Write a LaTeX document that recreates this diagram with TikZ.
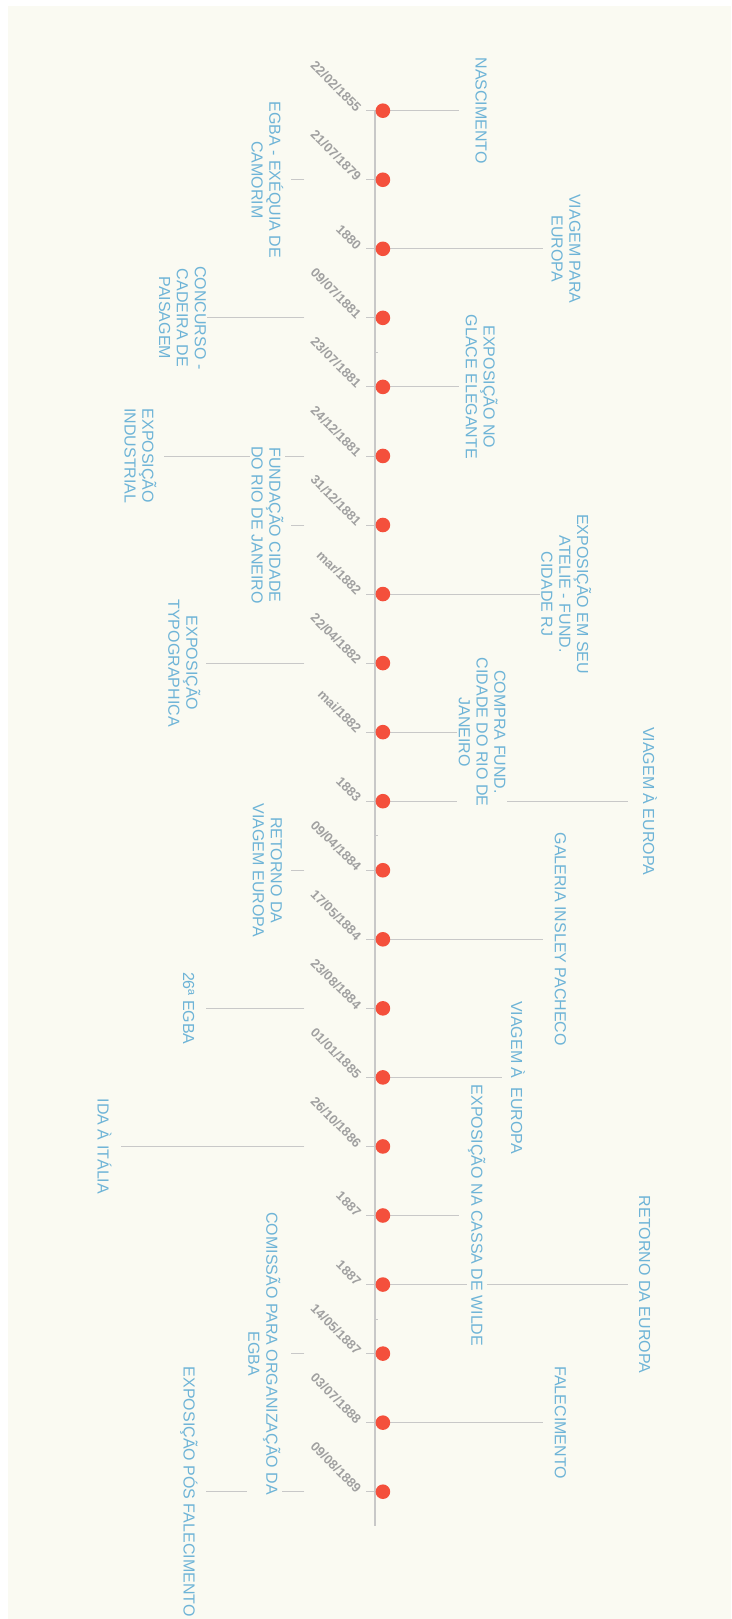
\documentclass[tikz,border=0pt]{standalone}
\usepackage{fontspec}
\setmainfont{Liberation Sans}
\usepackage{tikz}
\definecolor{paper}{HTML}{FAFAF2}
\definecolor{evblue}{HTML}{6EB4D7}
\definecolor{dotred}{HTML}{F4503C}
\definecolor{rulegray}{HTML}{C8C8C8}
\definecolor{dategray}{HTML}{A0A0A0}
\pgfdeclarelayer{back}
\pgfdeclarelayer{lines}
\pgfsetlayers{back,lines,main}

\begin{document}
\begin{tikzpicture}[x=1pt,y=-1pt,
  ev/.style={circle,fill=dotred,minimum size=14.6pt,inner sep=0pt},
  dt/.style={rotate=-45,anchor=base east,inner sep=0pt,text=dategray,font=\fontsize{13}{13}\selectfont\bfseries},
  lb/.style={rotate=-90,align=center,fill=paper,inner sep=1.5pt,text=evblue,font=\fontsize{16}{17.8}\selectfont},
  cn/.style={rulegray,line width=0.9pt},
  ax/.style={rulegray,line width=1.8pt}]
  \begin{pgfonlayer}{back}
    \fill[white] (0,0) rectangle (731,1619);
    \fill[paper] (8,6) rectangle (731,1619);
  \end{pgfonlayer}
  \useasboundingbox (0,0) rectangle (731,1619);
  \coordinate (top) at (374.6,110);
  \coordinate (bot) at (374.6,1526);
  \begin{pgfonlayer}{lines}
    \draw[ax] (top) -- (bot);
    \foreach \k in {4,11,18}
      \draw[cn] (374.6,{110.7+69.05*(\k-0.5)}) -- ++(3.5,0);
  \end{pgfonlayer}
  \foreach \i/\dat/\xe/\xc/\txt in {
      1/{22/02/1855}/458.9/481.2/NASCIMENTO,
      3/1880/542.9/566/{VIAGEM PARA\\EUROPA},
      5/{23/07/1881}/458.9/481.6/{EXPOSIÇÃO NO\\GLACE ELEGANTE},
      8/{mar/1882}/542.9/566.2/{EXPOSIÇÃO EM SEU\\ATELIE - FUND.\\CIDADE RJ},
      10/{mai/1882}/457.1/482.1/{COMPRA FUND.\\CIDADE DO RIO DE\\JANEIRO},
      11/1883/627.9/650/{VIAGEM À EUROPA},
      13/{17/05/1884}/542.9/560.4/{GALERIA INSLEY PACHECO},
      15/{01/01/1885}/501.8/517.9/{VIAGEM À\ \ EUROPA},
      17/1887/458.9/476.8/{EXPOSIÇÃO NA CASSA DE WILDE},
      18/1887/627.9/644.6/{RETORNO DA EUROPA},
      20/{03/07/1888}/542.9/560.4/FALECIMENTO} {
    \pgfmathsetmacro\y{110.7+69.05*(\i-1)}
    \node[ev] (d\i) at (382.9,\y) {};
    \node[dt] (w\i) at (356,\y+2) {\dat};
    \coordinate (t\i) at (\xe,\y);
    \node[lb] (e\i) at (\xc,\y) {\txt};
    \begin{pgfonlayer}{lines}
      \draw[cn] (d\i.center) -- (t\i);
      \draw[cn] (366,\y) -- (374.6,\y);
    \end{pgfonlayer}
  }
  \foreach \i/\dat/\xe/\xc/\txt in {
      2/{21/07/1879}/291/267.4/{EGBA - EXÉQUIA DE\\CAMORIM},
      4/{09/07/1881}/206.4/182.5/{CONCURSO -\\CADEIRA DE\\PAISAGEM},
      6/{24/12/1881}/163.6/140.5/{EXPOSIÇÃO\\INDUSTRIAL},
      7/{31/12/1881}/291/267.4/{FUNDAÇÃO CIDADE\\DO RIO DE JANEIRO},
      9/{22/04/1882}/206.4/184.3/{EXPOSIÇÃO\\TYPOGRAPHICA},
      12/{09/04/1884}/291/267.4/{RETORNO DA\\VIAGEM EUROPA},
      14/{23/08/1884}/206.4/188.6/26ª EGBA,
      16/{26/10/1886}/121.4/104.5/{IDA À ITÁLIA},
      19/{14/05/1887}/291/264.3/{COMISSÃO PARA ORGANIZAÇÃO DA\\EGBA},
      21/{09/08/1889}/206.4/188.9/{EXPOSIÇÃO PÓS FALECIMENTO}} {
    \pgfmathsetmacro\y{110.7+69.05*(\i-1)}
    \node[ev] (d\i) at (382.9,\y) {};
    \node[dt] (w\i) at (356,\y+2) {\dat};
    \coordinate (s\i) at (304.3,\y);
    \coordinate (t\i) at (\xe,\y);
    \node[lb] (e\i) at (\xc,\y) {\txt};
    \begin{pgfonlayer}{lines}
      \draw[cn] (s\i) -- (t\i);
      \draw[cn] (366,\y) -- (374.6,\y);
    \end{pgfonlayer}
  }
\end{tikzpicture}
\end{document}
